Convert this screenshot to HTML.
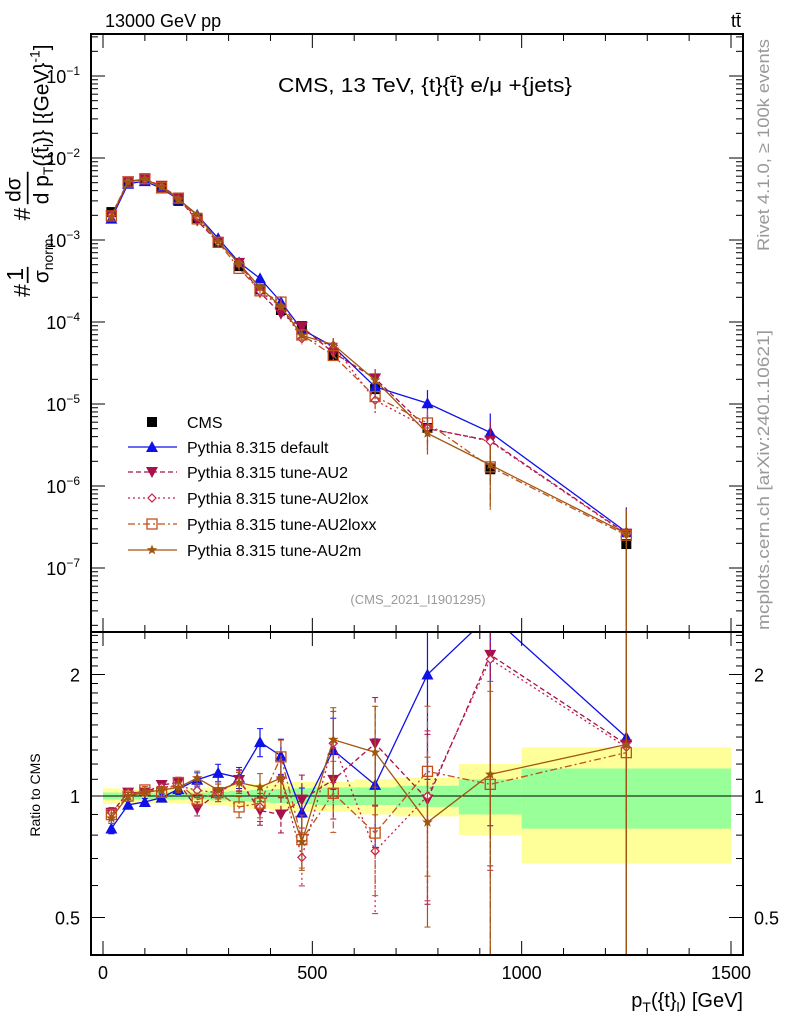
<!DOCTYPE html>
<html><head><meta charset="utf-8"><style>
html,body{margin:0;padding:0;background:#fff;width:786px;height:1024px;overflow:hidden}
svg{display:block;font-family:"Liberation Sans",sans-serif}
</style></head><body>
<svg id="chart" width="786" height="1024" viewBox="0 0 786 1024" xmlns="http://www.w3.org/2000/svg">
<g id="bands"></g>
<g id="marks"></g>
<g id="axes"></g>
<text x="105" y="27" font-size="18">13000 GeV pp</text>
<text x="741" y="27" font-size="18" text-anchor="end">tt̄</text>
<text x="278" y="92" font-size="20" textLength="294" lengthAdjust="spacingAndGlyphs">CMS, 13 TeV, {t}{t̄} e/μ +{jets}</text>
<text x="418" y="604" font-size="13" fill="#999" text-anchor="middle">(CMS_2021_I1901295)</text>
<text transform="translate(769,251) rotate(-90)" font-size="17" fill="#999" textLength="212" lengthAdjust="spacingAndGlyphs">Rivet 4.1.0, ≥ 100k events</text>
<text transform="translate(769,630) rotate(-90)" font-size="17" fill="#999" textLength="300" lengthAdjust="spacingAndGlyphs">mcplots.cern.ch [arXiv:2401.10621]</text>
<text transform="translate(40,795) rotate(-90)" font-size="14" text-anchor="middle">Ratio to CMS</text>
<g transform="translate(30,297) rotate(-90) scale(1.16)" font-size="20">
<text x="0" y="0">#</text><text x="14" y="-6" font-size="20">1</text><line x1="12" y1="-2" x2="26" y2="-2" stroke="#000" stroke-width="1.5"/><text x="12" y="16" font-size="18">σ<tspan font-size="12" dy="4">norm</tspan></text>
<text x="66" y="0">#</text><text x="82" y="-8" font-size="18">dσ</text><line x1="80" y1="-2" x2="108" y2="-2" stroke="#000" stroke-width="1.5"/><text x="80" y="16" font-size="18">d p<tspan font-size="12" dy="4">T</tspan><tspan dy="-4">({t̄</tspan><tspan font-size="12" dy="4">l</tspan><tspan dy="-4">)} [{GeV}</tspan><tspan font-size="12" dy="-8">-1</tspan><tspan dy="8">]</tspan></text>
</g>
<text x="743" y="1007" font-size="20" text-anchor="end">p<tspan font-size="14" dy="5">T</tspan><tspan dy="-5">({t}</tspan><tspan font-size="14" dy="5">l</tspan><tspan dy="-5">) [GeV]</tspan></text>
<g id="legend"></g>
</svg>
<script>
const binEdges=[0,40,80,120,160,200,250,300,350,400,450,500,600,700,850,1000,1500];
const binCenters=[20,60,100,140,180,225,275,325,375,425,475,550,650,775,925,1250];
const cmsValues=[2.19e-3,5.1e-3,5.4e-3,4.3e-3,3.0e-3,1.85e-3,9.2e-4,4.8e-4,2.5e-4,1.4e-4,8.9e-5,3.85e-5,1.52e-5,5.1e-6,1.6e-6,1.96e-7];
const cmsTotalErr=[0.045,0.04,0.04,0.04,0.04,0.045,0.05,0.06,0.07,0.08,0.085,0.085,0.1,0.11,0.2,0.32];
const cmsStatErr=[0.02,0.02,0.02,0.02,0.02,0.02,0.025,0.03,0.035,0.04,0.045,0.05,0.05,0.06,0.1,0.17];
const mcDefault=[1.82e-3,4.85e-3,5.22e-3,4.26e-3,3.12e-3,2.03e-3,1.05e-3,5.33e-4,3.4e-4,1.76e-4,8.1e-5,5.0e-5,1.62e-5,1.02e-5,4.5e-6,2.74e-7];
const mcAU2=[1.99e-3,5.2e-3,5.51e-3,4.58e-3,3.24e-3,1.72e-3,9.38e-4,5.26e-4,2.3e-4,1.26e-4,8.72e-5,4.22e-5,2.05e-5,5.0e-6,3.58e-6,2.63e-7];
const mcAU2lox=[1.99e-3,5.2e-3,5.51e-3,4.52e-3,3.18e-3,1.91e-3,9.38e-4,5.23e-4,2.35e-4,1.55e-4,6.27e-5,5.2e-5,1.11e-5,5.1e-6,3.49e-6,2.59e-7];
const mcAU2loxx=[1.97e-3,5.1e-3,5.59e-3,4.39e-3,3.24e-3,1.81e-3,9.38e-4,4.51e-4,2.4e-4,1.75e-4,6.94e-5,3.91e-5,1.23e-5,5.87e-6,1.71e-6,2.51e-7];
const mcAU2m=[1.93e-3,5.1e-3,5.51e-3,4.45e-3,3.15e-3,2.05e-3,9.52e-4,5.18e-4,2.63e-4,1.55e-4,6.85e-5,5.31e-5,1.95e-5,4.39e-6,1.81e-6,2.63e-7];
const mcRelErr=[0.03,0.02,0.02,0.02,0.03,0.04,0.05,0.06,0.08,0.1,0.15,0.2,0.3,0.45,0.7,1.0];
const xTicks=[0,500,1000,1500];
const yTickExps=[-7,-6,-5,-4,-3,-2,-1];
const ratioTicks=[0.5,1,2];
const seriesNames=["Pythia 8.315 default","Pythia 8.315 tune-AU2","Pythia 8.315 tune-AU2lox","Pythia 8.315 tune-AU2loxx","Pythia 8.315 tune-AU2m"];

const L=91,R=743,T=34,MB=632,RB=955;
const NS="http://www.w3.org/2000/svg";
const X=v=>103+(731-103)*v/1500;
const Y=v=>76-(Math.log10(v)+1)*82;
const YR=r=>796-Math.log2(Math.max(r,1e-3))*121.5;
function el(tag,attrs,parent){const e=document.createElementNS(NS,tag);for(const k in attrs)e.setAttribute(k,attrs[k]);parent.appendChild(e);return e;}
const bands=document.getElementById('bands'),marks=document.getElementById('marks'),axes=document.getElementById('axes'),legend=document.getElementById('legend');

for(let i=0;i<binCenters.length;i++){
  const x0=X(binEdges[i]),x1=X(binEdges[i+1]);
  const yb=el('rect',{x:x0,y:YR(1+cmsTotalErr[i]),width:x1-x0,height:YR(1-cmsTotalErr[i])-YR(1+cmsTotalErr[i]),fill:'#ffff99'},bands);
  
  
  const gb=el('rect',{x:x0,y:YR(1+cmsStatErr[i]),width:x1-x0,height:YR(1-cmsStatErr[i])-YR(1+cmsStatErr[i]),fill:'#99ff99'},bands);
  
  
}
el('line',{x1:L,y1:YR(1),x2:R,y2:YR(1),stroke:'#000','stroke-width':1},bands);

function marker(type,x,y,c,g){
  let m;
  if(type==='sq') m=el('rect',{x:x-5,y:y-5,width:10,height:10,fill:'#000'},g);
  else if(type==='up') m=el('polygon',{points:`${x},${y-6} ${x-6},${y+5} ${x+6},${y+5}`,fill:c},g);
  else if(type==='down') m=el('polygon',{points:`${x},${y+6} ${x-6},${y-5} ${x+6},${y-5}`,fill:c},g);
  else if(type==='dia') m=el('polygon',{points:`${x},${y-4} ${x+4},${y} ${x},${y+4} ${x-4},${y}`,fill:'#fff',stroke:c,'stroke-width':1.2},g);
  else if(type==='osq') m=el('rect',{x:x-5,y:y-5,width:10,height:10,fill:'none',stroke:c,'stroke-width':1.3},g);
  else { const pts=[];for(let k=0;k<10;k++){const r=k%2?2.3:5.5,a=-Math.PI/2+k*Math.PI/5;pts.push((x+r*Math.cos(a)).toFixed(1)+','+(y+r*Math.sin(a)).toFixed(1));} m=el('polygon',{points:pts.join(' '),fill:c},g);}
  return m;
}
const clipM=el('clipPath',{id:'cm'},marks);el('rect',{x:L,y:T,width:R-L,height:MB-T},clipM);
const clipR=el('clipPath',{id:'cr'},marks);el('rect',{x:L,y:MB,width:R-L,height:RB-MB},clipR);

const cg=el('g',{'clip-path':'url(#cm)'},marks);


cmsValues.forEach((v,i)=>{
  el('line',{x1:X(binCenters[i]),x2:X(binCenters[i]),y1:Y(v*(1+cmsTotalErr[i])),y2:Y(v*(1-cmsTotalErr[i])),stroke:'#000'},cg);
  marker('sq',X(binCenters[i]),Y(v),'#000',cg);
});

const series=[
 {vals:mcDefault,c:'#1010e8',dash:'',m:'up'},
 {vals:mcAU2,c:'#a8104c',dash:'5,3',m:'down'},
 {vals:mcAU2lox,c:'#c4204c',dash:'2,3',m:'dia'},
 {vals:mcAU2loxx,c:'#c2501c',dash:'7,3,2,3',m:'osq'},
 {vals:mcAU2m,c:'#a0560f',dash:'',m:'star'}];
series.forEach((s,si)=>{
  const gm=el('g',{'clip-path':'url(#cm)'},marks);
  
  
  const gr=el('g',{'clip-path':'url(#cr)'},marks);
  
  
  el('polyline',{points:s.vals.map((v,i)=>X(binCenters[i])+','+Y(v)).join(' '),fill:'none',stroke:s.c,'stroke-width':1.3,'stroke-dasharray':s.dash},gm);
  el('polyline',{points:s.vals.map((v,i)=>X(binCenters[i])+','+YR(v/cmsValues[i])).join(' '),fill:'none',stroke:s.c,'stroke-width':1.3,'stroke-dasharray':s.dash},gr);
  s.vals.forEach((v,i)=>{
    const x=X(binCenters[i]),e=mcRelErr[i],r=v/cmsValues[i];
    el('line',{x1:x,x2:x,y1:Y(v*(1+e)),y2:Y(Math.max(v*(1-e),1e-9)),stroke:s.c,'stroke-width':1.2,'stroke-dasharray':s.dash},gm);
    el('line',{x1:x,x2:x,y1:YR(r*(1+e)),y2:YR(Math.max(r*(1-e),1e-3)),stroke:s.c,'stroke-width':1.2,'stroke-dasharray':s.dash},gr);
    el('line',{x1:x-3,x2:x+3,y1:YR(r*(1+e)),y2:YR(r*(1+e)),stroke:s.c},gr);
    el('line',{x1:x-3,x2:x+3,y1:YR(r*(1-e)),y2:YR(r*(1-e)),stroke:s.c},gr);
    marker(s.m,x,Y(v),s.c,gm);
    marker(s.m,x,YR(r),s.c,gr);
  });
});

el('rect',{x:L,y:T,width:R-L,height:MB-T,fill:'none',stroke:'#000','stroke-width':2},axes);
el('rect',{x:L,y:MB,width:R-L,height:RB-MB,fill:'none',stroke:'#000','stroke-width':2},axes);
for(let v=0;v<=1500;v+=100){
  const x=X(v),big=v%500===0,h=big?14:7;
  [T,MB].forEach(y0=>el('line',{x1:x,x2:x,y1:y0,y2:y0+h,stroke:'#000'},axes));
  [MB,RB].forEach(y0=>el('line',{x1:x,x2:x,y1:y0,y2:y0-h,stroke:'#000'},axes));
}
xTicks.forEach(v=>{const t=el('text',{x:X(v),y:979,'font-size':18,'text-anchor':'middle'},axes);t.textContent=v;
 
 });
for(let e=-8;e<=0;e++){for(let k=1;k<10;k++){const v=k*Math.pow(10,e),y=Y(v);if(y<T||y>MB)continue;const h=k===1?14:7;
 el('line',{x1:L,x2:L+h,y1:y,y2:y,stroke:'#000'},axes);el('line',{x1:R,x2:R-h,y1:y,y2:y,stroke:'#000'},axes);}}
yTickExps.forEach(e=>{const t=el('text',{x:80,y:Y(Math.pow(10,e))+7,'font-size':18,'text-anchor':'end'},axes);
 t.innerHTML='10<tspan font-size="12" dy="-8">−'+(-e)+'</tspan>';
 
 });
for(let r=0.4;r<=2.6;r+=0.1){const y=YR(r);if(y<MB||y>RB)continue;const big=[0.5,1,2].some(q=>Math.abs(q-r)<1e-6);const h=big?14:7;
 el('line',{x1:L,x2:L+h,y1:y,y2:y,stroke:'#000'},axes);el('line',{x1:R,x2:R-h,y1:y,y2:y,stroke:'#000'},axes);}
ratioTicks.forEach(r=>{[[80,'end'],[754,'start']].forEach(([x,a])=>{const t=el('text',{x:x,y:YR(r)+7,'font-size':18,'text-anchor':a},axes);t.textContent=r;
 
 });});

const ly=[422,447,472,498,524,550];
const lc=el('g',{},legend);


marker('sq',152,ly[0],'#000',lc);
el('text',{x:187,y:ly[0]+6,'font-size':16},lc).textContent='CMS';
series.forEach((s,i)=>{
  const g=el('g',{},legend);
  
  
  el('line',{x1:128,x2:177,y1:ly[i+1],y2:ly[i+1],stroke:s.c,'stroke-width':1.3,'stroke-dasharray':s.dash},g);
  marker(s.m,152,ly[i+1],s.c,g);
  el('text',{x:187,y:ly[i+1]+6,'font-size':16},g).textContent=seriesNames[i];
});
</script>
</body></html>
